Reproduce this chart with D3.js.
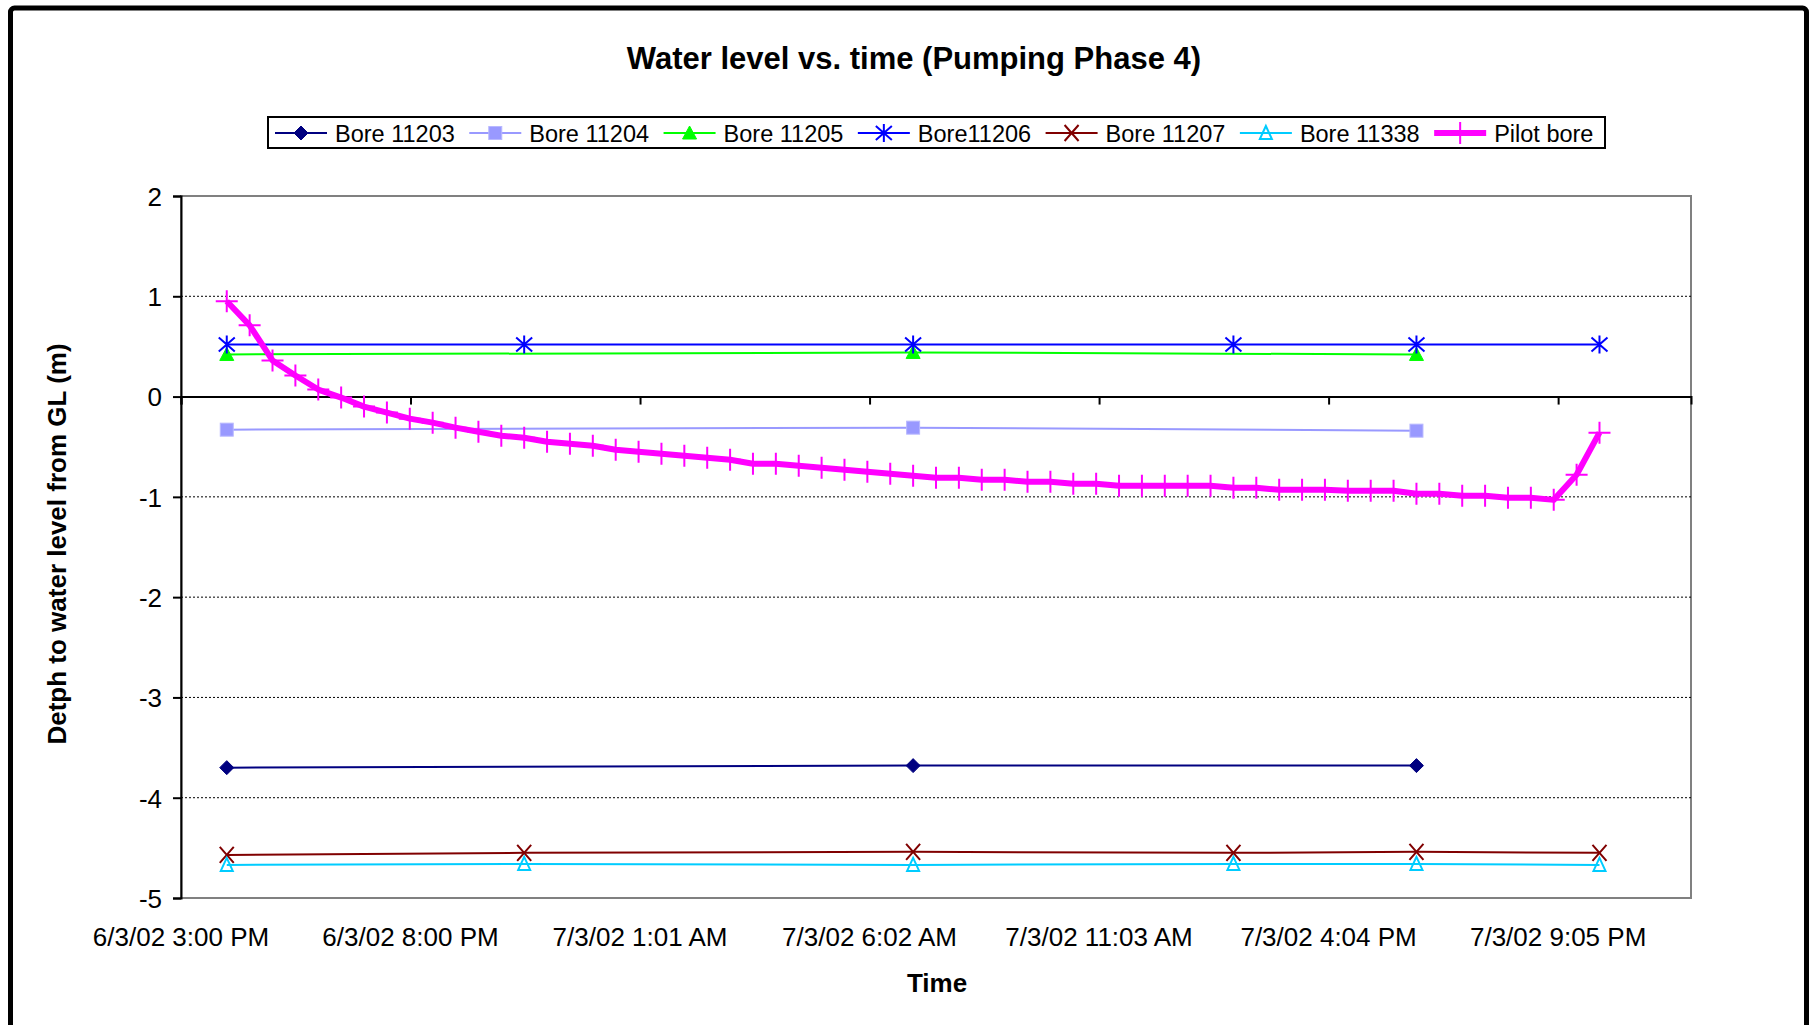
<!DOCTYPE html>
<html>
<head>
<meta charset="utf-8">
<script src="https://cdn.jsdelivr.net/npm/d3@7"></script>
<style>
body { margin: 0; background: #fff; }
svg text { font-family: "Liberation Sans", Arial, sans-serif; fill: #000; }
</style>
</head>
<body>
<svg id="chart" width="1812" height="1025"></svg>
<script>
// readings (dates are d/m/yy in the original sheet -> March 2002)
var times3 = ["2002-03-06T16:00:00", "2002-03-07T07:00:00", "2002-03-07T18:00:00"];
var times6 = ["2002-03-06T16:00:00", "2002-03-06T22:30:00", "2002-03-07T07:00:00",
              "2002-03-07T14:00:00", "2002-03-07T18:00:00", "2002-03-07T22:00:00"];

var bore11203 = [-3.70, -3.68, -3.68];
var bore11204 = [-0.33, -0.31, -0.34];
var bore11205 = [0.42, 0.44, 0.42];
var bore11206 = [0.52, 0.52, 0.52, 0.52, 0.52, 0.52];
var bore11207 = [-4.57, -4.55, -4.54, -4.55, -4.54, -4.55];
var bore11338 = [-4.67, -4.66, -4.67, -4.66, -4.66, -4.67];

var pilotTimes = [
  "2002-03-06T16:00:00", "2002-03-06T16:30:00", "2002-03-06T17:00:00", "2002-03-06T17:30:00",
  "2002-03-06T18:00:00", "2002-03-06T18:30:00", "2002-03-06T19:00:00", "2002-03-06T19:30:00",
  "2002-03-06T20:00:00", "2002-03-06T20:30:00", "2002-03-06T21:00:00", "2002-03-06T21:30:00",
  "2002-03-06T22:00:00", "2002-03-06T22:30:00", "2002-03-06T23:00:00", "2002-03-06T23:30:00",
  "2002-03-07T00:00:00", "2002-03-07T00:30:00", "2002-03-07T01:00:00", "2002-03-07T01:30:00",
  "2002-03-07T02:00:00", "2002-03-07T02:30:00", "2002-03-07T03:00:00", "2002-03-07T03:30:00",
  "2002-03-07T04:00:00", "2002-03-07T04:30:00", "2002-03-07T05:00:00", "2002-03-07T05:30:00",
  "2002-03-07T06:00:00", "2002-03-07T06:30:00", "2002-03-07T07:00:00", "2002-03-07T07:30:00",
  "2002-03-07T08:00:00", "2002-03-07T08:30:00", "2002-03-07T09:00:00", "2002-03-07T09:30:00",
  "2002-03-07T10:00:00", "2002-03-07T10:30:00", "2002-03-07T11:00:00", "2002-03-07T11:30:00",
  "2002-03-07T12:00:00", "2002-03-07T12:30:00", "2002-03-07T13:00:00", "2002-03-07T13:30:00",
  "2002-03-07T14:00:00", "2002-03-07T14:30:00", "2002-03-07T15:00:00", "2002-03-07T15:30:00",
  "2002-03-07T16:00:00", "2002-03-07T16:30:00", "2002-03-07T17:00:00", "2002-03-07T17:30:00",
  "2002-03-07T18:00:00", "2002-03-07T18:30:00", "2002-03-07T19:00:00", "2002-03-07T19:30:00",
  "2002-03-07T20:00:00", "2002-03-07T20:30:00", "2002-03-07T21:00:00", "2002-03-07T21:30:00",
  "2002-03-07T22:00:00"];
var pilotBore = [
  0.95, 0.71, 0.36, 0.21, 0.07, -0.01, -0.10, -0.16, -0.22, -0.26,
  -0.31, -0.35, -0.39, -0.41, -0.45, -0.47, -0.49, -0.53, -0.55, -0.57,
  -0.59, -0.61, -0.63, -0.67, -0.67, -0.69, -0.71, -0.73, -0.75, -0.77,
  -0.79, -0.81, -0.81, -0.83, -0.83, -0.85, -0.85, -0.87, -0.87, -0.89,
  -0.89, -0.89, -0.89, -0.89, -0.91, -0.91, -0.93, -0.93, -0.93, -0.94,
  -0.94, -0.94, -0.97, -0.97, -0.99, -0.99, -1.01, -1.01, -1.03, -0.78,
  -0.36];

var xStart = "2002-03-06T15:00:00";
var xEnd = "2002-03-08T00:00:00";
var xTickTimes = ["2002-03-06T15:00:00", "2002-03-06T20:00:58", "2002-03-07T01:01:55",
                  "2002-03-07T06:02:53", "2002-03-07T11:03:50", "2002-03-07T16:04:48",
                  "2002-03-07T21:05:46"];
var xTickLabels = ["6/3/02 3:00 PM", "6/3/02 8:00 PM", "7/3/02 1:01 AM", "7/3/02 6:02 AM",
                   "7/3/02 11:03 AM", "7/3/02 4:04 PM", "7/3/02 9:05 PM"];
var yTicks = [2, 1, 0, -1, -2, -3, -4, -5];

var seriesNames = ["Bore 11203", "Bore 11204", "Bore 11205", "Bore11206", "Bore 11207", "Bore 11338", "Pilot bore"];


var svg = d3.select('#chart');
var plotLeft = 181, plotRight = 1691, plotTop = 196, plotBottom = 898;

function pairs(ts, vs) {
  return ts.map(function (t, i) { return { t: new Date(t), v: vs[i] }; });
}

var series = [
  { name: seriesNames[0], data: pairs(times3, bore11203), color: '#000080', width: 2, mark: 'diamond' },
  { name: seriesNames[1], data: pairs(times3, bore11204), color: '#9999FF', width: 2, mark: 'square' },
  { name: seriesNames[2], data: pairs(times3, bore11205), color: '#00FF00', width: 2, mark: 'triangle' },
  { name: seriesNames[3], data: pairs(times6, bore11206), color: '#0000FF', width: 2, mark: 'star' },
  { name: seriesNames[4], data: pairs(times6, bore11207), color: '#800000', width: 2, mark: 'x' },
  { name: seriesNames[5], data: pairs(times6, bore11338), color: '#00CCFF', width: 2, mark: 'opentri' },
  { name: seriesNames[6], data: pairs(pilotTimes, pilotBore), color: '#FF00FF', width: 6, mark: 'plus' }
];

var x = d3.scaleTime()
  .domain([new Date(xStart), new Date(xEnd)])
  .range([plotLeft, plotRight]);

var y = d3.scaleLinear()
  .domain([-5, 2])
  .range([plotBottom, plotTop]);

// outer frame
svg.append('rect')
  .attr('x', 10.5).attr('y', 8)
  .attr('width', 1796).attr('height', 1040)
  .attr('rx', 4)
  .attr('fill', '#fff')
  .attr('stroke', '#000')
  .attr('stroke-width', 5);

// title
svg.append('text')
  .attr('x', 914).attr('y', 69)
  .attr('text-anchor', 'middle')
  .style('font-size', '31px')
  .style('font-weight', 'bold')
  .text('Water level vs. time (Pumping Phase 4)');

// plot area border
svg.append('rect')
  .attr('x', plotLeft).attr('y', plotTop)
  .attr('width', plotRight - plotLeft).attr('height', plotBottom - plotTop)
  .attr('fill', 'none')
  .attr('stroke', '#808080')
  .attr('stroke-width', 2);

// gridlines
svg.append('g').selectAll('line')
  .data(yTicks.filter(function (d) { return d !== 0 && d !== 2 && d !== -5; }))
.enter().append('line')
  .attr('x1', plotLeft).attr('x2', plotRight)
  .attr('y1', function (d) { return y(d); })
  .attr('y2', function (d) { return y(d); })
  .attr('stroke', '#000')
  .attr('stroke-width', 1)
  .attr('stroke-dasharray', '2,2');

// y axis (plain hyphen for negatives, like the sheet)
var yAxis = svg.append('g')
  .attr('transform', 'translate(' + plotLeft + ',0)')
  .call(d3.axisLeft(y).tickValues(yTicks).tickSize(8).tickPadding(11)
    .tickFormat(function (d) { return String(d); }));
yAxis.select('.domain').attr('stroke', '#000').attr('stroke-width', 2);
yAxis.selectAll('.tick line').attr('stroke', '#000').attr('stroke-width', 2);
yAxis.selectAll('text').style('font-size', '26px').attr('dy', '0.36em');

// x axis crossing at 0
var xTicks = xTickTimes.map(function (d) { return new Date(d); });
var xAxis = svg.append('g')
  .attr('transform', 'translate(0,' + y(0) + ')')
  .call(d3.axisBottom(x).tickValues(xTicks).tickSize(8).tickFormat(''));
xAxis.select('.domain').attr('stroke', '#000').attr('stroke-width', 2);
xAxis.selectAll('.tick line').attr('stroke', '#000').attr('stroke-width', 2);

// x labels sit at the bottom of the plot
svg.append('g').selectAll('text')
  .data(xTicks)
.enter().append('text')
  .attr('x', function (d) { return x(d); })
  .attr('y', 946)
  .attr('text-anchor', 'middle')
  .style('font-size', '26px')
  .text(function (d, i) { return xTickLabels[i]; });

// axis titles
svg.append('text')
  .attr('x', 937).attr('y', 992)
  .attr('text-anchor', 'middle')
  .style('font-size', '26px')
  .style('font-weight', 'bold')
  .text('Time');

svg.append('text')
  .attr('transform', 'translate(66,544) rotate(-90)')
  .attr('text-anchor', 'middle')
  .style('font-size', '26px')
  .style('font-weight', 'bold')
  .text('Detph to water level from GL (m)');

// markers
function drawMarker(g, type, color) {
  if (type === 'diamond') {
    g.append('path').attr('d', 'M0,-7L7,0L0,7L-7,0Z').attr('fill', color).attr('stroke', color);
  } else if (type === 'square') {
    g.append('rect').attr('x', -6.5).attr('y', -6.5).attr('width', 13).attr('height', 13)
      .attr('fill', color).attr('stroke', '#b8b8ff').attr('stroke-width', 1);
  } else if (type === 'triangle') {
    g.append('path').attr('d', 'M0,-7L7,6L-7,6Z').attr('fill', color).attr('stroke', color);
  } else if (type === 'opentri') {
    g.append('path').attr('d', 'M0,-7L6,6L-6,6Z').attr('fill', 'none').attr('stroke', color).attr('stroke-width', 2);
  } else if (type === 'star') {
    g.append('path').attr('d', 'M-8,-7L8,7M-8,7L8,-7M0,-9L0,9').attr('fill', 'none').attr('stroke', color).attr('stroke-width', 2);
  } else if (type === 'x') {
    g.append('path').attr('d', 'M-7,-8L7,8M-7,8L7,-8').attr('fill', 'none').attr('stroke', color).attr('stroke-width', 2);
  } else if (type === 'plus') {
    g.append('path').attr('d', 'M-11,0L11,0M0,-11L0,11').attr('fill', 'none').attr('stroke', color).attr('stroke-width', 2);
  }
}

var line = d3.line()
  .x(function (d) { return x(d.t); })
  .y(function (d) { return y(d.v); });

series.forEach(function (s) {
  var g = svg.append('g').attr('class', 'series');
  g.append('path')
    .datum(s.data)
    .attr('d', line)
    .attr('fill', 'none')
    .attr('stroke', s.color)
    .attr('stroke-width', s.width)
    .attr('stroke-linejoin', 'round');
  g.selectAll('g.pt')
    .data(s.data)
  .enter().append('g')
    .attr('class', 'pt')
    .attr('transform', function (d) { return 'translate(' + x(d.t) + ',' + y(d.v) + ')'; })
    .each(function () { drawMarker(d3.select(this), s.mark, s.color); });
});

// legend
var legend = svg.append('g');
legend.append('rect')
  .attr('x', 268).attr('y', 117)
  .attr('width', 1337).attr('height', 31)
  .attr('fill', '#fff')
  .attr('stroke', '#000')
  .attr('stroke-width', 2);

var lx = 275, ly = 133;
series.forEach(function (s) {
  var g = legend.append('g');
  g.append('line')
    .attr('x1', lx).attr('x2', lx + 52)
    .attr('y1', ly).attr('y2', ly)
    .attr('stroke', s.color)
    .attr('stroke-width', s.width);
  var m = g.append('g').attr('transform', 'translate(' + (lx + 26) + ',' + ly + ')');
  drawMarker(m, s.mark, s.color);
  var t = g.append('text')
    .attr('x', lx + 60).attr('y', ly + 8.5)
    .style('font-size', '23.5px')
    .text(s.name);
  lx = lx + 60 + t.node().getComputedTextLength() + 14.5;
});
</script>
</body>
</html>
